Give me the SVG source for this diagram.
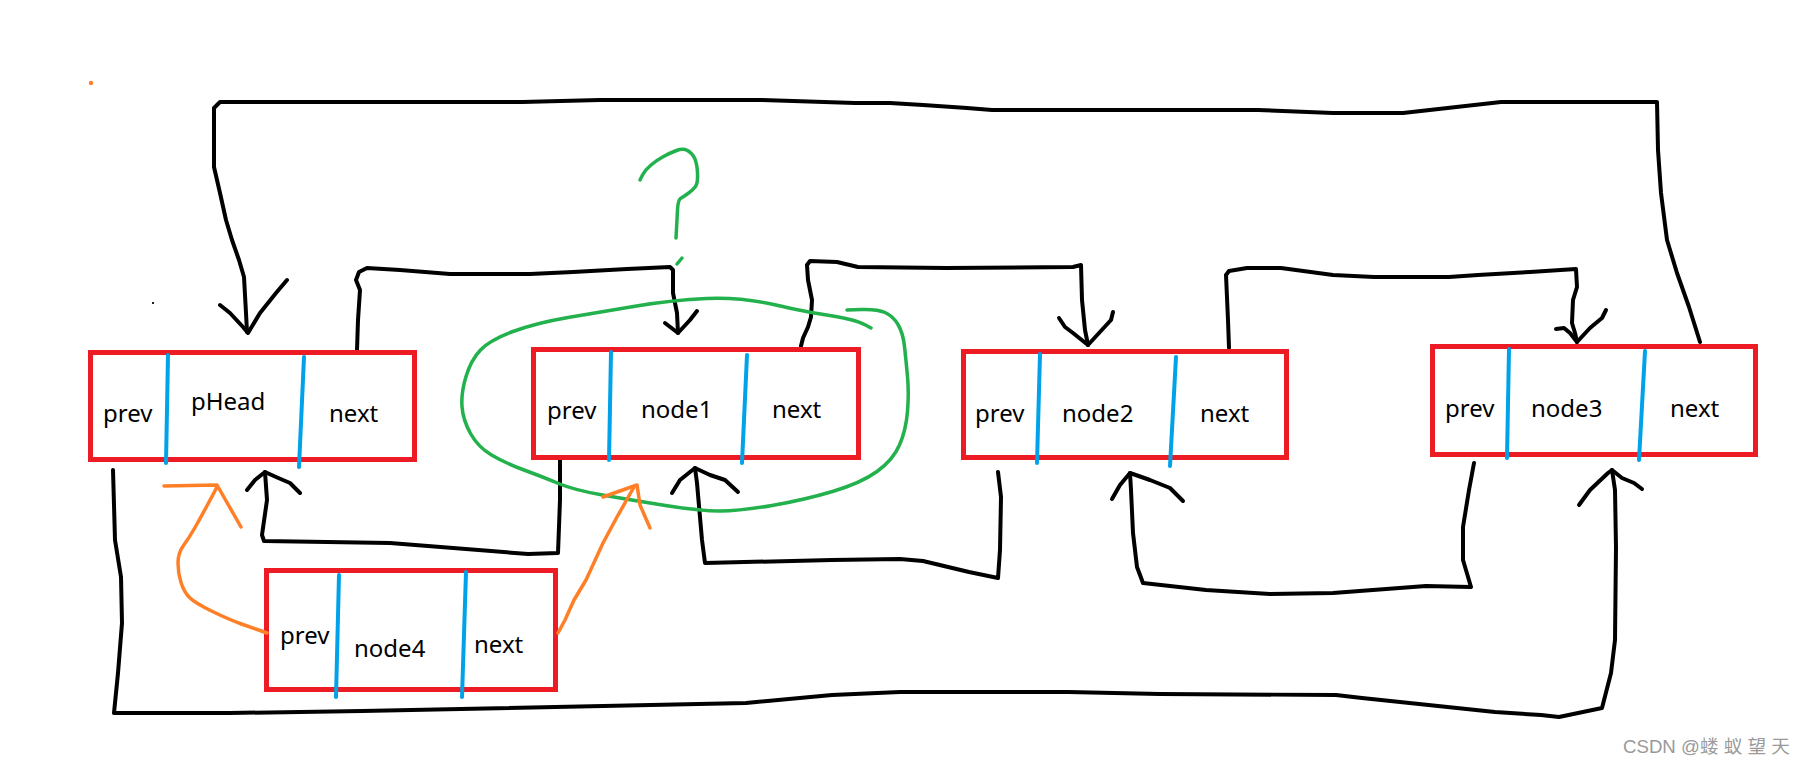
<svg xmlns="http://www.w3.org/2000/svg" width="1806" height="766" viewBox="0 0 1806 766">
<style>
.box{fill:none;stroke:#ED1C24;stroke-width:5}
.div{fill:none;stroke:#00A2E8;stroke-width:4;stroke-linecap:round}
.lbl{font-family:"Noto Sans","Open Sans",sans-serif;font-size:24px;fill:#000}
.wire{fill:none;stroke:#000;stroke-width:4;stroke-linejoin:round;stroke-linecap:round}
.grn{fill:none;stroke:#22B14C;stroke-width:3.5;stroke-linejoin:round;stroke-linecap:round}
.org{fill:none;stroke:#FF7F27;stroke-width:3.5;stroke-linejoin:round;stroke-linecap:round}
.wm{font-family:"Liberation Sans","Noto Sans CJK SC",sans-serif;font-size:18px;fill:#9a9a9a}
</style>
<rect x="0" y="0" width="1806" height="766" fill="#fff"/>
<circle cx="91" cy="83" r="2.2" fill="#FF7F27"/>
<rect x="152" y="302" width="2" height="2" fill="#222"/>

<g id="connectors">
  <!-- node3.next -> pHead -->
  <path class="wire" d="M1700,342 L1689,307 L1677,273 L1667,240 L1661,193 L1658,150 L1657,102 L1501,102 L1403,113 L1333,113 L1258,110 L992,110 L967,108 L923,105 L890,103 L855,103 L762,100 L600,100 L522,102 L220,102 L214,108 L214,167 L220,193 L226,220 L232,240 L239,260 L244,277 L246,313 L247,332"/>
  <path class="wire" d="M220,305 L230,313 L243,327 L248,333 L260,313 L276,293 L287,280"/>
  <!-- pHead.next -> node1 -->
  <path class="wire" d="M357,350 L358,320 L360,290 L356,280 L359,272 L367,268 L400,270 L450,274 L530,274 L573,272 L627,269 L670,267 L673,270 L673,293 L677,313 L678,333"/>
  <path class="wire" d="M665,323 L678,333 L690,320 L697,311"/>
  <!-- node1.next -> node2 -->
  <path class="wire" d="M801,346 L803,338 L808,327 L811,317 L812,300 L808,280 L807,265 L810,261 L837,262 L858,267 L946,268 L1073,267 L1081,265 L1082,300 L1085,330 L1088,345"/>
  <path class="wire" d="M1059,318 L1065,327 L1073,333 L1088,345 L1099,333 L1111,320 L1113,312"/>
  <!-- node2.next -> node3 -->
  <path class="wire" d="M1229,348 L1228,320 L1226,275 L1229,271 L1247,268 L1281,268 L1333,275 L1374,277 L1449,277 L1478,275 L1530,272 L1576,269 L1577,287 L1573,300 L1572,323 L1575,333 L1577,342"/>
  <path class="wire" d="M1556,329 L1564,328 L1570,333 L1577,342 L1590,328 L1602,318 L1606,310"/>
  <!-- pHead.prev -> node3 (bottom loop) -->
  <path class="wire" d="M113,470 L115,540 L121,577 L122,623 L118,673 L114,713 L230,713 L362,711 L746,703 L832,695 L900,692 L1068,692 L1160,694 L1336,695 L1362,698 L1495,712 L1541,715 L1559,717 L1602,708 L1611,673 L1615,640 L1616,547 L1615,490 L1612,470"/>
  <path class="wire" d="M1579,505 L1590,490 L1608,473 L1612,470 L1622,478 L1634,483 L1642,489"/>
  <!-- node1.prev -> pHead (bottom) -->
  <path class="wire" d="M560,460 L560,500 L558,553 L528,554 L390,543 L264,541 L262,535 L267,500 L265,472"/>
  <path class="wire" d="M247,490 L255,480 L265,472 L276,477 L290,483 L300,493"/>
  <!-- node2.prev -> node1 (bottom) -->
  <path class="wire" d="M998,472 L1001,497 L1000,550 L998,578 L969,572 L923,561 L900,559 L832,560 L705,563 L702,540 L697,483 L695,468"/>
  <path class="wire" d="M672,493 L680,480 L695,468 L710,475 L725,480 L738,492"/>
  <!-- node3.prev -> node2 (bottom) -->
  <path class="wire" d="M1474,463 L1469,490 L1463,527 L1463,560 L1471,587 L1426,586 L1333,593 L1270,594 L1206,590 L1143,583 L1137,567 L1133,533 L1131,490 L1130,473"/>
  <path class="wire" d="M1112,499 L1120,485 L1130,473 L1150,480 L1170,488 L1183,501"/>
</g>

<g id="pHead">
  <rect class="box" x="90.5" y="352.5" width="324" height="107"/>
  <path class="div" d="M168,355 L166,463"/>
  <path class="div" d="M304,357 L299,467"/>
  <text class="lbl" x="103" y="422">prev</text>
  <text class="lbl" x="191" y="410">pHead</text>
  <text class="lbl" x="329" y="422">next</text>
</g>

<g id="node1">
  <rect class="box" x="533.5" y="349.5" width="325" height="108"/>
  <path class="div" d="M611,352 L609,460"/>
  <path class="div" d="M747,355 L742,463"/>
  <text class="lbl" x="547" y="419">prev</text>
  <text class="lbl" x="641" y="418">node1</text>
  <text class="lbl" x="772" y="418">next</text>
</g>

<g id="node2">
  <rect class="box" x="963.5" y="351.5" width="323" height="106"/>
  <path class="div" d="M1040,354 L1037,463"/>
  <path class="div" d="M1176,357 L1170,466"/>
  <text class="lbl" x="975" y="422">prev</text>
  <text class="lbl" x="1062" y="422">node2</text>
  <text class="lbl" x="1200" y="422">next</text>
</g>

<g id="node3">
  <rect class="box" x="1432.5" y="346.5" width="323" height="108"/>
  <path class="div" d="M1509,349 L1507,458"/>
  <path class="div" d="M1645,351 L1639,460"/>
  <text class="lbl" x="1445" y="417">prev</text>
  <text class="lbl" x="1531" y="417">node3</text>
  <text class="lbl" x="1670" y="417">next</text>
</g>

<g id="node4">
  <rect class="box" x="266.5" y="570.5" width="289" height="119"/>
  <path class="div" d="M339,575 L336,697"/>
  <path class="div" d="M466,572 L462,697"/>
  <text class="lbl" x="280" y="644">prev</text>
  <text class="lbl" x="354" y="657">node4</text>
  <text class="lbl" x="474" y="653">next</text>
</g>

<g id="question">
  <path class="grn" d="M640,180 L642.5,175 Q645,170 651,165 Q657,160 663.5,156.5 Q670,153 676.5,150.5 Q683,148 687.5,150.5 Q692,153 694.5,158 Q697,163 697.5,173 Q698,183 695.5,186.5 Q693,190 688,193.5 Q683,197 680.5,198.5 Q678,200 677.5,210 Q677,220 676.5,229 L676,238"/>
  <path class="grn" d="M677,264 L682,258"/>
  <path class="grn" d="M871,328 L865.5,325 Q860,322 850,319.5 Q840,317 823.5,314.5 Q807,312 773.5,304.5 Q740,297 706.5,298.5 Q673,300 636.5,306 Q600,312 568,317.5 Q536,323 513,331.5 Q490,340 480.5,350 Q471,360 466,376.5 Q461,393 462,406.5 Q463,420 470.5,433.5 Q478,447 491.5,455 Q505,463 524,470 Q543,477 558.5,483.5 Q574,490 602.5,495 Q631,500 665.5,505.5 Q700,511 720,511 Q740,511 772,505.5 Q804,500 832.5,491.5 Q861,483 877,471.5 Q893,460 899.5,445 Q906,430 907.5,411.5 Q909,393 907.5,376.5 Q906,360 904.5,346.5 Q903,333 898,324.5 Q893,316 885,312.5 Q877,309 862,309.5 L847,310"/>
</g>

<g id="insert-arrows">
  <path class="org" d="M267,633 L260,630.5 Q253,628 241.5,624 Q230,620 212.5,611.5 Q195,603 189.5,597.5 Q184,592 181,582.5 Q178,573 178,563 Q178,553 183.5,545.5 Q189,538 195,527.5 Q201,517 209,502 L217,487"/>
  <path class="org" d="M164,486 L217,485 L241,527"/>
  <path class="org" d="M558,633 L565,620 L574,600 L586,580 L603,543 L617,517 L634,487"/>
  <path class="org" d="M603,497 L617,492 L637,485 L640,505 L650,528"/>
</g>

<text class="wm" x="1623" y="753" textLength="167" lengthAdjust="spacingAndGlyphs">CSDN @蝼 蚁 望 天</text>
</svg>
